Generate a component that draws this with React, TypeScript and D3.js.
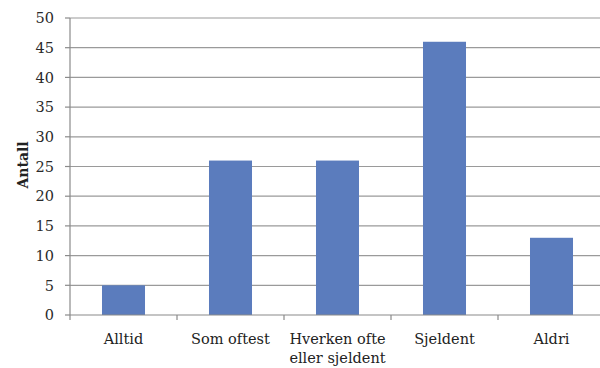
import { useEffect, useRef } from 'react'
import * as d3 from 'd3'

const categories = ['Alltid', 'Som oftest', 'Hverken ofte\neller sjeldent', 'Sjeldent', 'Aldri']
const values = [5, 26, 26, 46, 13]
const yTicks = [0, 5, 10, 15, 20, 25, 30, 35, 40, 45, 50]

export default function App() {
  const svgRef = useRef<SVGSVGElement>(null)

  useEffect(() => {
    if (!svgRef.current) return
    const W = 600, H = 368
    const left = 70, right = 605, top = 18, bottom = 315
    const svg = d3.select(svgRef.current).attr('viewBox', `0 0 ${W} ${H}`)
    svg.selectAll('*').remove()
    const font = '"DejaVu Serif", serif'

    const x = d3.scaleBand().domain(categories).range([left, right]).paddingInner(0.598).paddingOuter(0.299)
    const y = d3.scaleLinear().domain([0, 50]).range([bottom, top])

    // grid
    yTicks.forEach((t) => {
      if (t === 0) return
      svg.append('line').attr('x1', left).attr('x2', right)
        .attr('y1', y(t)).attr('y2', y(t))
        .attr('stroke', '#9a9a9a').attr('stroke-width', 1.2)
    })

    // bars
    svg.selectAll('rect.bar').data(values).enter().append('rect')
      .attr('class', 'bar')
      .attr('x', (_, i) => x(categories[i])!)
      .attr('width', x.bandwidth())
      .attr('y', (d) => y(d))
      .attr('height', (d) => bottom - y(d))
      .attr('fill', '#5b7cbd')

    // y axis
    svg.append('line').attr('x1', left).attr('x2', left).attr('y1', top).attr('y2', bottom)
      .attr('stroke', '#8a8a8a').attr('stroke-width', 1.2)
    yTicks.forEach((t) => {
      svg.append('line').attr('x1', left - 5).attr('x2', left).attr('y1', y(t)).attr('y2', y(t))
        .attr('stroke', '#8a8a8a').attr('stroke-width', 1.2)
      svg.append('text').attr('x', 54).attr('y', y(t)).attr('dy', '0.36em')
        .attr('text-anchor', 'end').attr('font-family', font).attr('font-size', 14.5)
        .attr('fill', '#2a2a2a').text(String(t))
    })

    // x axis
    svg.append('line').attr('x1', left).attr('x2', right).attr('y1', bottom).attr('y2', bottom)
      .attr('stroke', '#8a8a8a').attr('stroke-width', 1.2)
    const step = x.step()
    for (let i = 0; i <= categories.length; i++) {
      const xx = left + i * step
      svg.append('line').attr('x1', xx).attr('x2', xx).attr('y1', bottom).attr('y2', bottom + 5)
        .attr('stroke', '#8a8a8a').attr('stroke-width', 1.2)
    }
    categories.forEach((c) => {
      const cx = x(c)! + x.bandwidth() / 2
      c.split('\n').forEach((line, j) => {
        svg.append('text').attr('x', cx).attr('y', 344 + j * 19)
          .attr('text-anchor', 'middle').attr('font-family', font).attr('font-size', 14.5)
          .attr('fill', '#222').text(line)
      })
    })

    // y label
    svg.append('text').attr('transform', `translate(28,165) rotate(-90)`)
      .attr('text-anchor', 'middle').attr('font-family', font).attr('font-weight', 'bold')
      .attr('font-size', 14).attr('fill', '#222').text('Antall')
  }, [])

  return (
    <svg ref={svgRef} width={600} height={368}
      style={{ position: 'absolute', left: 0, top: 0, background: '#fff' }} />
  )
}
